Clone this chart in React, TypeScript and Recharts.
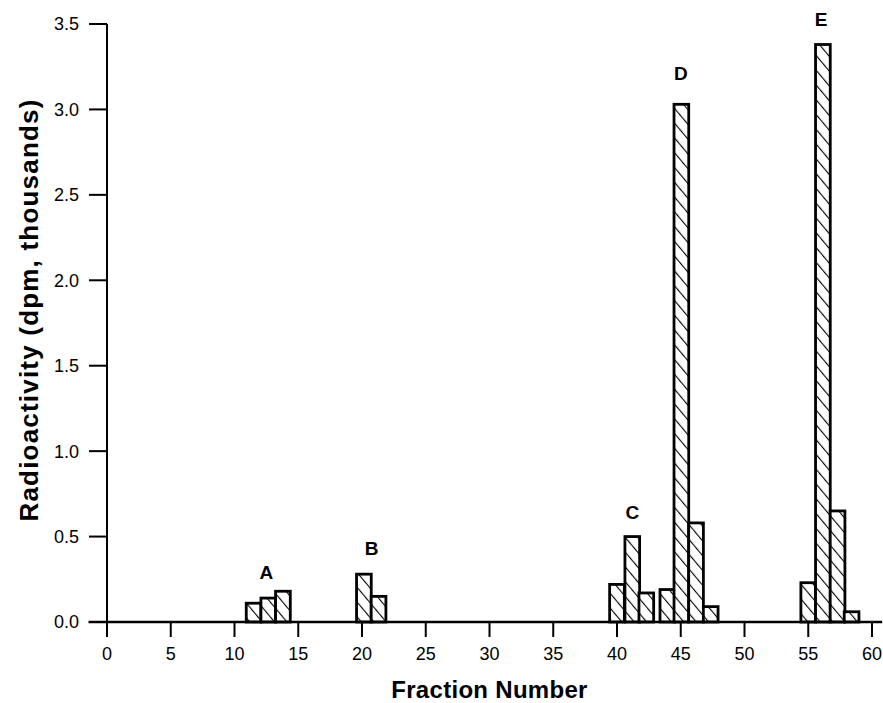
import React from 'react';
import {
  BarChart,
  Bar,
  XAxis,
  YAxis,
  ReferenceLine,
  ReferenceDot,
} from 'recharts';

// fraction number (bar centre) and radioactivity (dpm, thousands)
const fractions = [11.5, 12.65, 13.8, 20.15, 21.3, 40.0, 41.2, 42.3, 43.95, 45.05, 46.2, 47.35, 55.0, 56.15, 57.3, 58.4];
const activity = [0.11, 0.14, 0.18, 0.28, 0.15, 0.22, 0.5, 0.17, 0.19, 3.03, 0.58, 0.09, 0.23, 3.38, 0.65, 0.06];

// peak labels
const peakNames = ['A', 'B', 'C', 'D', 'E'];
const peakX = [12.5, 20.75, 41.2, 45.0, 56.0];
const peakY = [0.29, 0.43, 0.64, 3.21, 3.53];

const xTicks = [0, 5, 10, 15, 20, 25, 30, 35, 40, 45, 50, 55, 60];
const yTicks = [0, 0.5, 1.0, 1.5, 2.0, 2.5, 3.0, 3.5];

const data = fractions.map((f, i) => ({ fraction: f, value: activity[i] }));

const FONT = '"Liberation Sans", Arial, sans-serif';
const BAR_W = 14.7;

const HatchBar = (props: any) => {
  const { x, y, width, height } = props;
  if (height == null || height <= 0) return null;
  const cx = x + width / 2;
  return (
    <rect
      x={cx - BAR_W / 2}
      y={y}
      width={BAR_W}
      height={height}
      fill="url(#hatch)"
      stroke="#000"
      strokeWidth={2.8}
    />
  );
};

export default function App() {
  return (
    <div style={{ position: 'absolute', left: 0, top: 0, background: '#fff' }}>
      <BarChart
        width={883}
        height={703}
        data={data}
        margin={{ top: 24, right: 11, bottom: 0, left: 0 }}
      >
        <defs>
          <pattern
            id="hatch"
            width="9.5"
            height="9.5"
            patternUnits="userSpaceOnUse"
            patternTransform="rotate(-40)"
          >
            <rect width="9.5" height="9.5" fill="#fff" />
            <line x1="0" y1="0" x2="0" y2="9.5" stroke="#000" strokeWidth={2.2} />
          </pattern>
        </defs>
        <XAxis
          type="number"
          dataKey="fraction"
          domain={[0, 60]}
          ticks={xTicks}
          height={81}
          axisLine={false}
          tickSize={15}
          tickMargin={10}
          tickLine={{ stroke: '#000', strokeWidth: 2 }}
          tick={{ fill: '#000', fontSize: 18, fontFamily: FONT }}
          label={{
            content: ({ viewBox }: any) => (
              <text
                x={viewBox.x + viewBox.width / 2}
                y={689}
                textAnchor="middle"
                dominantBaseline="central"
                fontFamily={FONT}
                fontWeight="bold"
                fontSize={24}
                letterSpacing={0.3}
                fill="#000"
              >
                Fraction Number
              </text>
            ),
          }}
        />
        <YAxis
          type="number"
          domain={[0, 3.5]}
          ticks={yTicks}
          width={107}
          axisLine={{ stroke: '#000', strokeWidth: 2 }}
          tickSize={18}
          tickMargin={10}
          tickLine={{ stroke: '#000', strokeWidth: 2 }}
          tickFormatter={(v: number) => v.toFixed(1)}
          tick={{ fill: '#000', fontSize: 18, fontFamily: FONT }}
          label={{
            content: ({ viewBox }: any) => {
              const lx = 29;
              const ly = viewBox.y + viewBox.height / 2 - 13;
              return (
                <text
                  x={lx}
                  y={ly}
                  transform={`rotate(-90, ${lx}, ${ly})`}
                  textAnchor="middle"
                  dominantBaseline="central"
                  fontFamily={FONT}
                  fontWeight="bold"
                  fontSize={26}
                  letterSpacing={1.2}
                  fill="#000"
                >
                  Radioactivity (dpm, thousands)
                </text>
              );
            },
          }}
        />
        <Bar dataKey="value" barSize={10} shape={HatchBar} isAnimationActive={false} />
        <ReferenceLine
          segment={[
            { x: -1.45, y: 0 },
            { x: 60.8, y: 0 },
          ]}
          ifOverflow="visible"
          stroke="#000"
          strokeWidth={2.5}
        />
        {peakNames.map((n, i) => (
          <ReferenceDot
            key={n}
            x={peakX[i]}
            y={peakY[i]}
            r={0}
            ifOverflow="visible"
            stroke="none"
            fill="none"
            label={{
              value: n,
              position: 'center',
              fill: '#000',
              fontSize: 19,
              fontWeight: 'bold',
              fontFamily: FONT,
            }}
          />
        ))}
      </BarChart>
    </div>
  );
}
